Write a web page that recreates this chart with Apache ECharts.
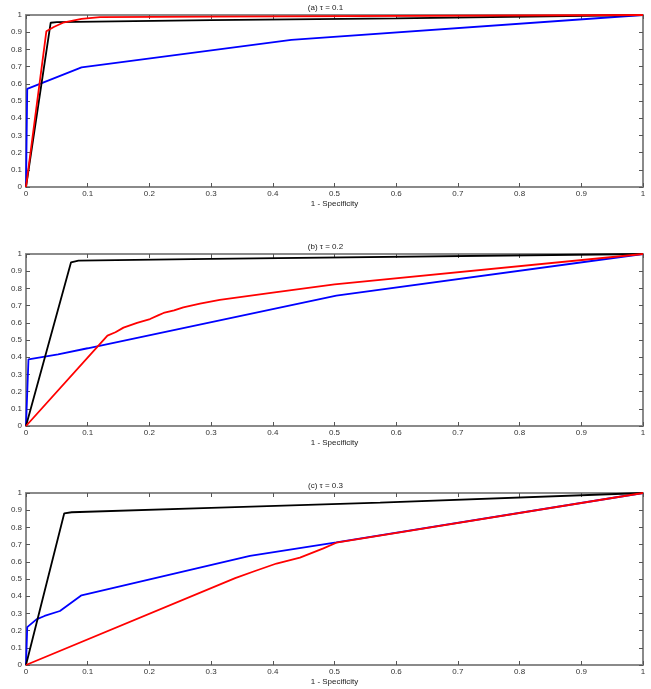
<!DOCTYPE html>
<html><head><meta charset="utf-8">
<script src="https://cdn.jsdelivr.net/npm/echarts@6/dist/echarts.min.js"></script>
<style>html,body{margin:0;padding:0;background:#fff}#c{width:651px;height:689px}</style>
</head><body><div id="c"></div>
<script>
// Panel titles
const titles = ['(a) \u03c4 = 0.1', '(b) \u03c4 = 0.2', '(c) \u03c4 = 0.3'];
const xName = '1 - Specificity';
const yName = 'Sensitivity';
const tickValues = [0,0.1,0.2,0.3,0.4,0.5,0.6,0.7,0.8,0.9,1];

// (a) tau = 0.1  — [1-specificity, sensitivity]
const aBlack = [[0,0],[0.04,0.955],[0.05,0.958],[0.3,0.97],[0.6,0.98],[1,1]];
const aRed   = [[0,0],[0.033,0.905],[0.045,0.93],[0.06,0.955],[0.09,0.978],[0.12,0.988],[0.3,0.99],[1,1]];
const aBlue  = [[0,0],[0.002,0.57],[0.09,0.695],[0.43,0.855],[1,1]];

// (b) tau = 0.2
const bBlack = [[0,0],[0.073,0.952],[0.085,0.962],[0.3,0.972],[1,1]];
const bRed   = [[0,0],[0.132,0.525],[0.145,0.545],[0.158,0.572],[0.18,0.6],[0.201,0.622],[0.215,0.645],[0.223,0.657],[0.24,0.672],[0.255,0.69],[0.282,0.711],[0.314,0.733],[0.4,0.775],[0.5,0.824],[1,1]];
const bBlue  = [[0,0],[0.004,0.388],[0.052,0.417],[0.1,0.452],[0.503,0.758],[1,1]];

// (c) tau = 0.3
const cBlack = [[0,0],[0.062,0.882],[0.074,0.888],[0.3,0.913],[0.574,0.944],[1,1]];
const cRed   = [[0,0],[0.339,0.505],[0.37,0.545],[0.406,0.59],[0.444,0.624],[0.482,0.678],[0.503,0.711],[1,1]];
const cBlue  = [[0,0],[0.002,0.22],[0.017,0.265],[0.03,0.285],[0.055,0.314],[0.09,0.405],[0.363,0.634],[0.503,0.713],[1,1]];

const panels = [
  {black:aBlack, red:aRed, blue:aBlue},
  {black:bBlack, red:bRed, blue:bBlue},
  {black:cBlack, red:cRed, blue:cBlue}
];

const gridTops = [15, 254, 493];
const plotH = 172;
const frameColor = '#8a8a8a';
const fontFam = 'Liberation Sans, Arial, sans-serif';

const grid = [], xAxis = [], yAxis = [], series = [], title = [];
panels.forEach((p, i) => {
  grid.push({left: 26, right: 8, top: gridTops[i], height: plotH, containLabel: false, outerBoundsMode: 'none'});
  title.push({text: titles[i], left: 'center', top: gridTops[i] - 16,
    textStyle: {fontSize: 8, fontWeight: 'normal', color: '#222', fontFamily: fontFam}});
  const axBase = {
    type: 'value', min: 0, max: 1, interval: 0.1, gridIndex: i,
    axisLine: {show: true, onZero: false, lineStyle: {color: frameColor, width: 2}},
    axisTick: {show: true, inside: true, length: 4, lineStyle: {color: '#555', width: 1}},
    splitLine: {show: false}
  };
  xAxis.push(Object.assign({}, axBase, {
    position: 'bottom', name: xName, nameLocation: 'middle', nameGap: 13,
    nameTextStyle: {fontSize: 8, color: '#222', fontFamily: fontFam},
    axisLabel: {fontSize: 8, color: '#333', margin: 3, fontFamily: fontFam,
      formatter: v => String(+v.toFixed(1))}
  }));
  xAxis.push(Object.assign({}, axBase, {position: 'top', axisLabel: {show: false}}));
  yAxis.push(Object.assign({}, axBase, {
    position: 'left', name: yName, nameLocation: 'middle', nameGap: 18,
    nameTextStyle: {fontSize: 8, color: '#222', fontFamily: fontFam},
    axisLabel: {fontSize: 8, color: '#333', margin: 4, fontFamily: fontFam,
      formatter: v => String(+v.toFixed(1))}
  }));
  yAxis.push(Object.assign({}, axBase, {position: 'right', axisLabel: {show: false}}));
  const mk = (data, color) => ({
    type: 'line', data: data, xAxisIndex: i * 2, yAxisIndex: i * 2,
    showSymbol: false, symbol: 'none', smooth: false,
    lineStyle: {color: color, width: 1.8}, itemStyle: {color: color},
    silent: true, z: 3
  });
  series.push(mk(p.blue, '#0000ff'));
  series.push(mk(p.black, '#000000'));
  series.push(mk(p.red, '#ff0000'));
});

const chart = echarts.init(document.getElementById('c'), null, {renderer: 'canvas'});
chart.setOption({animation: false, backgroundColor: '#fff', title, grid, xAxis, yAxis, series});
</script></body></html>
